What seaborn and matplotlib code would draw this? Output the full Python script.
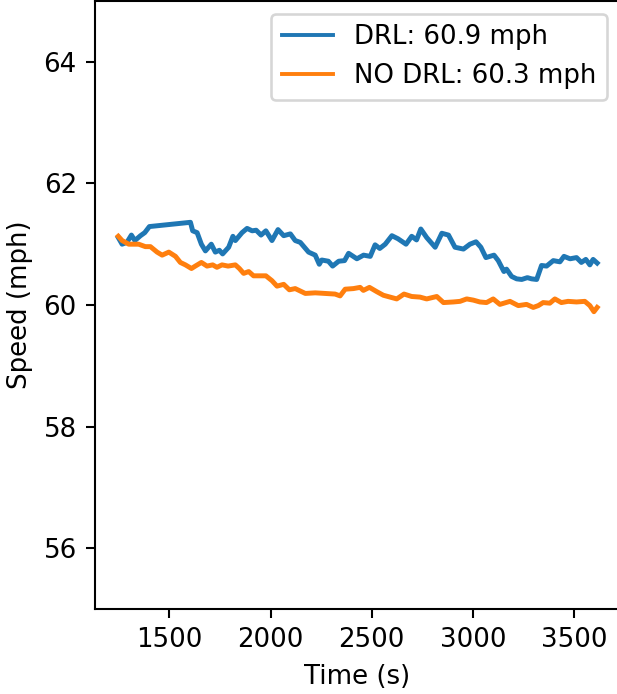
import matplotlib
matplotlib.use("Agg")
import matplotlib.pyplot as plt
import pandas as pd
import seaborn as sns


# Valores
drl_time = [1247, 1266, 1290, 1312, 1329, 1357, 1378, 1401, 1604, 1615, 1637,
            1658, 1678, 1707, 1727, 1747, 1763, 1793, 1814, 1826, 1859, 1884,
            1909, 1929, 1953, 1977, 2007, 2037, 2065, 2098, 2122, 2147, 2188,
            2221, 2241, 2253, 2286, 2307, 2337, 2366, 2386, 2427, 2460, 2493,
            2517, 2540, 2567, 2600, 2630, 2670, 2698, 2722, 2743, 2772, 2814,
            2847, 2880, 2912, 2954, 2986, 3016, 3040, 3065, 3105, 3126, 3154,
            3167, 3192, 3217, 3242, 3270, 3291, 3316, 3340, 3365, 3398, 3431,
            3451, 3481, 3513, 3537, 3559, 3579, 3595, 3615]
drl_speed = [61.11, 61.00, 61.03, 61.15, 61.06, 61.14, 61.19, 61.29, 61.36, 61.22, 61.19,
             61.00, 60.89, 61.00, 60.87, 60.90, 60.84, 60.95, 61.13, 61.06, 61.19, 61.26,
             61.22, 61.23, 61.15, 61.22, 61.06, 61.24, 61.14, 61.17, 61.06, 61.03, 60.87,
             60.82, 60.67, 60.74, 60.72, 60.64, 60.72, 60.73, 60.85, 60.76, 60.82, 60.80,
             60.99, 60.93, 61.00, 61.14, 61.09, 61.00, 61.13, 61.07, 61.25, 61.11, 60.95,
             61.18, 61.15, 60.95, 60.92, 61.00, 61.04, 60.95, 60.78, 60.82, 60.73, 60.55,
             60.59, 60.47, 60.43, 60.42, 60.45, 60.43, 60.42, 60.65, 60.64, 60.73, 60.71,
             60.80, 60.76, 60.78, 60.70, 60.75, 60.66, 60.75, 60.69]

nodrl_time = [1247, 1266, 1299, 1348, 1381, 1406, 1439, 1464, 1497, 1530, 1554,
              1579, 1609, 1628, 1658, 1686, 1714, 1735, 1760, 1790, 1826, 1846,
              1867, 1892, 1916, 1949, 1977, 2007, 2032, 2065, 2093, 2122, 2172,
              2221, 2270, 2319, 2344, 2369, 2410, 2443, 2459, 2489, 2525, 2558,
              2591, 2624, 2660, 2698, 2739, 2772, 2822, 2855, 2904, 2937, 2970,
              3003, 3035, 3068, 3101, 3134, 3184, 3225, 3266, 3299, 3324, 3348,
              3381, 3406, 3438, 3471, 3513, 3554, 3579, 3599, 3615]
nodrl_speed = [61.13, 61.06, 61.00, 61.00, 60.96, 60.96, 60.87, 60.82, 60.87, 60.80, 60.70,
               60.66, 60.60, 60.64, 60.70, 60.64, 60.66, 60.62, 60.66, 60.64, 60.66, 60.60,
               60.52, 60.55, 60.48, 60.48, 60.48, 60.40, 60.31, 60.34, 60.25, 60.27, 60.19,
               60.20, 60.19, 60.18, 60.15, 60.26, 60.27, 60.29, 60.24, 60.29, 60.22, 60.16,
               60.13, 60.10, 60.18, 60.14, 60.13, 60.10, 60.14, 60.04, 60.05, 60.06, 60.10,
               60.08, 60.05, 60.04, 60.10, 60.01, 60.06, 59.99, 60.01, 59.96, 59.99, 60.04,
               60.03, 60.10, 60.04, 60.06, 60.05, 60.06, 59.99, 59.89, 59.96]

series_labels = ["DRL: 60.9 mph", "NO DRL: 60.3 mph"]

DPI = 187


def armar_tabla():
    drl = pd.DataFrame({"t": drl_time, "v": drl_speed, "serie": series_labels[0]})
    nodrl = pd.DataFrame({"t": nodrl_time, "v": nodrl_speed, "serie": series_labels[1]})
    return pd.concat([drl, nodrl], ignore_index=True)


def graficar(df):
    fig = plt.figure(figsize=(617 / DPI, 694 / DPI), dpi=DPI)
    ax = fig.add_axes([95 / 617, 85 / 694, 525 / 617, 608 / 694])
    sns.lineplot(data=df, x="t", y="v", hue="serie", palette=["#1f77b4", "#ff7f0e"],
                 estimator=None, sort=False, linewidth=1.9, ax=ax)
    ax.set_ylim(55, 65)
    ax.set_xlim(1132, 3728)
    ax.set_yticks([56, 58, 60, 62, 64])
    ax.set_xticks([1500, 2000, 2500, 3000, 3500])
    ax.set_xlabel("Time (s)")
    ax.set_ylabel("Speed (mph)")
    sns.move_legend(ax, "upper right", title=None, frameon=True)
    for linea in ax.get_legend().get_lines():
        linea.set_linewidth(1.5)
    fig.savefig("out.png", dpi=DPI)


def main():
    df = armar_tabla()
    graficar(df)


if __name__ == '__main__':
    main()
